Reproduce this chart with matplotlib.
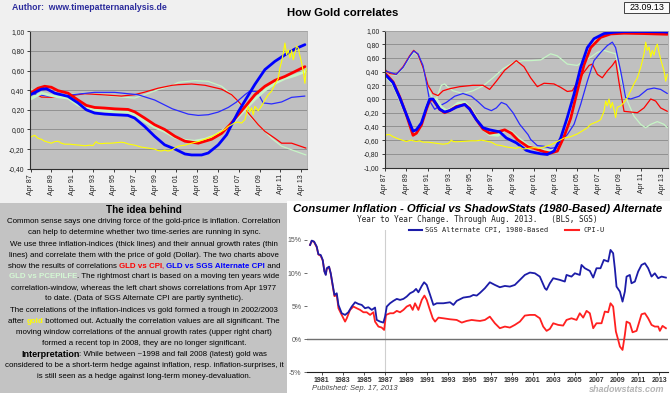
import matplotlib
matplotlib.use('Agg')
import matplotlib.pyplot as plt
from matplotlib.lines import Line2D
from matplotlib.patches import Rectangle

# ---------------- data ----------------
# tick labels of the two correlation charts (Apr of odd years)
corr_tick_years = [1987.25, 1989.25, 1991.25, 1993.25, 1995.25, 1997.25, 1999.25,
                   2001.25, 2003.25, 2005.25, 2007.25, 2009.25, 2011.25, 2013.25]
corr_tick_labels = ['Apr 87', 'Apr 89', 'Apr 91', 'Apr 93', 'Apr 95', 'Apr 97', 'Apr 99',
                    'Apr 01', 'Apr 03', 'Apr 05', 'Apr 07', 'Apr 09', 'Apr 11', 'Apr 13']

# left chart: correlations since Apr 1977
left_sgs_x = [1987.25, 1988.29, 1988.77, 1989.57, 1990.85, 1991.81, 1992.61, 1993.41, 1994.37,
              1995.33, 1996.61, 1997.25, 1998.21, 1999.17, 2000.13, 2001.12, 2002.08, 2002.72,
              2003.68, 2004.32, 2005.28, 2006.08, 2006.56, 2007.2, 2008.0, 2008.8, 2009.76,
              2010.72, 2011.68, 2012.64, 2013.6]
left_sgs_y = [0.354, 0.41, 0.415, 0.37, 0.337, 0.27, 0.2, 0.167, 0.156, 0.15, 0.143, 0.116,
              0.03, -0.07, -0.157, -0.2, -0.25, -0.26, -0.26, -0.24, -0.157, -0.054, 0.048,
              0.18, 0.32, 0.46, 0.61, 0.694, 0.76, 0.82, 0.864]
left_cpi_x = [1987.25, 1987.97, 1988.61, 1989.25, 1989.89, 1990.85, 1991.81, 1992.61, 1993.41,
              1994.37, 1995.33, 1996.61, 1997.25, 1998.21, 1999.17, 2000.13, 2001.12, 2002.08,
              2003.36, 2004.64, 2005.6, 2006.4, 2007.2, 2008.0, 2008.8, 2009.76, 2010.72,
              2011.68, 2012.64, 2013.6]
left_cpi_y = [0.37, 0.42, 0.44, 0.43, 0.395, 0.37, 0.30, 0.245, 0.224, 0.218, 0.21, 0.204,
              0.18, 0.116, 0.048, 0.0, -0.07, -0.12, -0.14, -0.1, -0.04, 0.048, 0.15, 0.25,
              0.354, 0.44, 0.5, 0.54, 0.59, 0.64]
left_pce_x = [1987.25, 1988.29, 1989.57, 1990.85, 1991.81, 1992.61, 1993.41, 1995.33, 1996.61,
              1997.25, 1998.21, 1999.17, 2000.13, 2001.12, 2002.08, 2003.0, 2004.0, 2005.0,
              2005.6, 2006.4, 2007.2, 2008.0, 2008.8, 2009.76, 2010.72, 2011.68, 2012.64, 2013.6]
left_pce_y = [0.31, 0.37, 0.337, 0.32, 0.25, 0.218, 0.2, 0.18, 0.177, 0.15, 0.082, 0.024,
              -0.02, -0.08, -0.11, -0.12, -0.1, -0.06, -0.02, 0.04, 0.13, 0.22, 0.31, 0.4,
              0.47, 0.52, 0.55, 0.59]
left_sgs_g_x = [1987.25, 1987.97, 1988.93, 1990.21, 1991.81, 1993.41, 1995.33, 1996.61, 1997.57,
                1999.17, 2000.87, 2002.4, 2003.36, 2004.32, 2005.28, 2006.24, 2007.04, 2007.84,
                2008.3, 2009.0, 2009.6, 2010.4, 2011.36, 2012.32, 2013.6]
left_sgs_g_y = [0.37, 0.354, 0.34, 0.34, 0.36, 0.378, 0.378, 0.364, 0.354, 0.30, 0.21, 0.156,
                0.143, 0.15, 0.177, 0.224, 0.28, 0.354, 0.39, 0.385, 0.27, 0.26, 0.28, 0.327, 0.34]
left_cpi_g_x = [1987.25, 1988.29, 1989.57, 1990.85, 1992.45, 1994.05, 1995.97, 1997.25, 1998.21,
                1999.49, 2000.87, 2001.44, 2002.72, 2004.0, 2005.6, 2006.56, 2007.2, 2008.16,
                2009.12, 2009.76, 2010.72, 2011.36, 2012.32, 2013.7]
left_cpi_g_y = [0.39, 0.33, 0.327, 0.34, 0.364, 0.354, 0.34, 0.354, 0.38, 0.42, 0.45, 0.456,
                0.463, 0.45, 0.41, 0.354, 0.286, 0.167, 0.048, -0.02, -0.09, -0.14, -0.14, -0.19]
left_pce_g_x = [1987.25, 1987.65, 1988.29, 1989.57, 1990.85, 1992.45, 1994.05, 1995.97, 1997.25,
                1998.21, 1999.49, 2000.87, 2001.44, 2003.04, 2004.32, 2005.6, 2006.56, 2007.52,
                2008.48, 2009.44, 2010.4, 2011.36, 2012.64, 2013.7]
left_pce_g_y = [0.42, 0.37, 0.337, 0.337, 0.354, 0.37, 0.354, 0.33, 0.32, 0.354, 0.405, 0.45,
                0.48, 0.497, 0.49, 0.44, 0.354, 0.235, 0.116, 0.014, -0.09, -0.17, -0.22, -0.26]
left_gold_x = [1987.25, 1987.39, 1987.65, 1987.97, 1988.29, 1988.61, 1988.93, 1989.25, 1989.57,
               1989.89, 1990.21, 1990.53, 1991.01, 1991.49, 1991.97, 1992.45, 1992.93, 1993.25,
               1993.41, 1993.57, 1993.73, 1994.05, 1994.53, 1995.01, 1995.49, 1995.97, 1996.29,
               1996.61, 1997.25, 1997.57, 1997.89, 1998.21, 1998.53, 1998.85, 1999.17, 1999.49,
               1999.81, 2000.13, 2000.45, 2000.8, 2001.44, 2002.08, 2002.72, 2003.36, 2004.0,
               2004.64, 2005.28, 2005.92, 2006.24, 2006.56, 2006.88, 2007.2, 2007.52, 2007.84,
               2008.0, 2008.16, 2008.32, 2008.48, 2008.64, 2008.8, 2009.12, 2009.44, 2009.76,
               2010.08, 2010.4, 2010.72, 2011.04, 2011.2, 2011.36, 2011.52, 2011.68, 2011.84,
               2012.0, 2012.16, 2012.32, 2012.48, 2012.64, 2012.8, 2012.96, 2013.12, 2013.28,
               2013.44, 2013.6, 2013.72]
left_gold_y = [-0.08, -0.07, -0.06, -0.09, -0.1, -0.12, -0.13, -0.14, -0.125, -0.12, -0.14,
               -0.15, -0.15, -0.156, -0.16, -0.167, -0.16, -0.165, -0.14, -0.125, -0.14, -0.145,
               -0.14, -0.14, -0.135, -0.13, -0.135, -0.148, -0.16, -0.17, -0.18, -0.185, -0.19,
               -0.195, -0.2, -0.215, -0.22, -0.21, -0.22, -0.21, -0.17, -0.16, -0.14, -0.123,
               -0.1, -0.075, -0.037, 0.0, 0.03, 0.048, 0.07, 0.075, 0.065, 0.1, 0.167, 0.235,
               0.18, 0.22, 0.15, 0.235, 0.19, 0.24, 0.3, 0.354, 0.39, 0.46, 0.52, 0.63, 0.69,
               0.78, 0.88, 0.76, 0.81, 0.73, 0.81, 0.71, 0.78, 0.85, 0.83, 0.75, 0.68, 0.59,
               0.47, 0.62]

# right chart: moving ten-year correlation window
right_sgs_x = [1987.25, 1988.0, 1988.63, 1989.25, 1989.88, 1990.19, 1990.66, 1991.13, 1991.44,
               1991.75, 1992.38, 1992.84, 1993.31, 1993.94, 1994.72, 1995.19, 1995.81, 1996.44,
               1997.06, 1998.0, 1998.63, 1999.56, 2000.5, 2000.9, 2001.84, 2002.47, 2003.09,
               2003.72, 2004.34, 2004.97, 2005.59, 2006.22, 2006.84, 2007.78, 2008.72, 2009.66,
               2011.53, 2013.41, 2013.72]
right_sgs_y = [0.36, 0.24, 0.02, -0.225, -0.47, -0.45, -0.35, -0.13, 0.0, 0.0, -0.15, -0.19,
               -0.17, -0.12, -0.08, -0.15, -0.3, -0.42, -0.45, -0.48, -0.57, -0.64, -0.75,
               -0.77, -0.80, -0.81, -0.76, -0.57, -0.27, 0.07, 0.46, 0.75, 0.88, 0.955, 0.975,
               0.985, 0.985, 0.98, 0.975]
right_cpi_x = [1987.25, 1988.0, 1988.63, 1989.25, 1989.88, 1990.19, 1990.66, 1991.13, 1991.44,
               1991.75, 1992.38, 1992.84, 1993.31, 1993.94, 1994.72, 1995.19, 1995.81, 1996.44,
               1997.06, 1997.84, 1998.47, 1999.09, 1999.72, 2000.66, 2001.22, 2002.16, 2002.78,
               2003.41, 2004.03, 2004.66, 2005.28, 2005.91, 2006.53, 2007.47, 2008.41, 2009.66,
               2011.53, 2013.72]
right_cpi_y = [0.38, 0.25, 0.03, -0.23, -0.53, -0.5, -0.38, -0.15, -0.02, -0.01, -0.15, -0.2,
               -0.17, -0.11, -0.08, -0.14, -0.3, -0.44, -0.5, -0.48, -0.45, -0.5, -0.6, -0.7,
               -0.72, -0.77, -0.79, -0.76, -0.55, -0.28, 0.12, 0.5, 0.75, 0.9, 0.95, 0.96,
               0.955, 0.945]
right_pce_x = [1987.25, 1988.0, 1988.63, 1989.25, 1989.88, 1990.19, 1990.66, 1991.13, 1991.44,
               1992.06, 1992.53, 1993.0, 1993.47, 1994.1, 1994.72, 1995.34, 1995.97, 1996.44,
               1997.06, 1997.84, 1998.47, 1999.09, 1999.72, 2000.66, 2001.22, 2002.16, 2002.78,
               2003.41, 2004.03, 2004.66, 2005.28, 2005.91, 2006.53, 2007.47, 2008.41, 2009.66,
               2011.53, 2013.72]
right_pce_y = [0.34, 0.22, 0.0, -0.24, -0.5, -0.47, -0.36, -0.12, 0.01, 0.0, -0.12, -0.17,
               -0.14, -0.06, -0.05, -0.15, -0.32, -0.44, -0.52, -0.53, -0.46, -0.48, -0.57,
               -0.68, -0.72, -0.75, -0.76, -0.73, -0.5, -0.2, 0.2, 0.55, 0.78, 0.92, 0.96, 0.97,
               0.97, 0.965]
right_sgs_g_x = [1987.25, 1987.69, 1988.31, 1988.94, 1989.56, 1989.94, 1990.34, 1990.81, 1991.13,
                 1991.44, 1991.91, 1992.38, 1993.0, 1993.78, 1994.56, 1995.34, 1995.97, 1996.59,
                 1997.22, 1997.69, 1998.16, 1998.63, 1999.25, 1999.88, 2000.66, 2000.9, 2001.53,
                 2002.16, 2002.78, 2003.25, 2003.72, 2004.34, 2004.97, 2005.59, 2006.22, 2006.84,
                 2007.47, 2008.09, 2008.56, 2008.87, 2009.34, 2009.81, 2010.28, 2011.06, 2011.84,
                 2012.47, 2013.09, 2013.72]
right_sgs_g_y = [0.41, 0.39, 0.36, 0.46, 0.62, 0.70, 0.66, 0.49, 0.24, -0.03, -0.15, -0.1, -0.05,
                 0.04, 0.08, 0.04, -0.04, -0.13, -0.17, -0.13, -0.05, -0.08, -0.2, -0.37, -0.52,
                 -0.59, -0.68, -0.69, -0.72, -0.71, -0.62, -0.52, -0.37, -0.08, 0.26, 0.56, 0.68,
                 0.78, 0.83, 0.75, 0.41, 0.02, 0.0, 0.04, 0.14, 0.16, 0.14, 0.08]
right_cpi_g_x = [1987.25, 1987.69, 1988.31, 1988.94, 1989.56, 1989.94, 1990.34, 1990.81, 1991.28,
                 1991.75, 1992.22, 1992.69, 1993.31, 1994.25, 1995.5, 1996.44, 1997.06, 1997.69,
                 1998.47, 1999.56, 2000.28, 2000.9, 2001.53, 2002.16, 2003.09, 2003.72, 2004.34,
                 2004.81, 2005.28, 2005.75, 2006.38, 2006.69, 2007.16, 2007.62, 2008.09, 2008.56,
                 2008.87, 2009.19, 2009.66, 2010.28, 2010.91, 2011.53, 2012.16, 2012.62, 2013.09,
                 2013.72]
right_cpi_g_y = [0.43, 0.37, 0.36, 0.47, 0.63, 0.71, 0.65, 0.46, 0.2, 0.08, 0.05, 0.12, 0.15,
                 0.18, 0.2, 0.2, 0.14, 0.26, 0.42, 0.56, 0.47, 0.31, 0.18, 0.23, 0.22, 0.17, 0.11,
                 0.12, 0.24, 0.36, 0.49, 0.51, 0.36, 0.31, 0.41, 0.49, 0.56, 0.24, -0.18, -0.19,
                 -0.2, -0.13, 0.0, -0.03, -0.13, -0.18]
right_pce_g_x = [1987.25, 1987.69, 1988.31, 1988.94, 1989.56, 1989.94, 1990.34, 1990.81, 1991.28,
                 1991.75, 1992.06, 1992.53, 1992.84, 1993.16, 1993.63, 1994.56, 1995.5, 1996.44,
                 1997.38, 1998.31, 1999.25, 2000.19, 2000.9, 2001.84, 2002.78, 2003.41, 2004.34,
                 2005.28, 2005.91, 2006.53, 2007.16, 2007.78, 2008.41, 2008.87, 2009.34, 2009.97,
                 2010.59, 2011.22, 2011.69, 2012.16, 2012.78, 2013.41, 2013.72]
right_pce_g_y = [0.39, 0.36, 0.35, 0.45, 0.6, 0.68, 0.64, 0.45, 0.15, 0.0, 0.0, 0.2, 0.22, 0.17,
                 0.12, 0.08, 0.12, 0.19, 0.31, 0.44, 0.53, 0.56, 0.56, 0.57, 0.66, 0.63, 0.51,
                 0.49, 0.56, 0.61, 0.68, 0.71, 0.68, 0.66, 0.31, -0.03, -0.25, -0.37, -0.42,
                 -0.37, -0.33, -0.37, -0.42]
right_gold_x = [1987.25, 1987.44, 1987.69, 1988.0, 1988.31, 1988.63, 1989.25, 1989.72, 1989.88,
                1990.19, 1990.5, 1990.81, 1991.28, 1991.75, 1992.22, 1992.69, 1993.16, 1993.31,
                1993.47, 1993.63, 1993.94, 1994.41, 1994.88, 1995.34, 1995.81, 1996.28, 1996.75,
                1997.22, 1997.69, 1998.16, 1998.63, 1999.09, 1999.56, 1999.88, 2000.19, 2000.75,
                2001.22, 2001.69, 2002.16, 2002.78, 2003.41, 2004.03, 2004.66, 2005.28, 2005.91,
                2006.22, 2006.53, 2006.84, 2007.16, 2007.47, 2007.78, 2007.94, 2008.09, 2008.25,
                2008.41, 2008.56, 2008.72, 2008.87, 2009.03, 2009.34, 2009.66, 2009.97, 2010.28,
                2010.59, 2010.91, 2011.22, 2011.38, 2011.53, 2011.69, 2011.84, 2012.0, 2012.16,
                2012.31, 2012.47, 2012.62, 2012.78, 2012.94, 2013.09, 2013.41, 2013.56, 2013.72]
right_gold_y = [-0.54, -0.52, -0.52, -0.55, -0.57, -0.59, -0.62, -0.6, -0.61, -0.62, -0.61,
                -0.63, -0.63, -0.64, -0.65, -0.66, -0.65, -0.63, -0.6, -0.62, -0.625, -0.62,
                -0.615, -0.61, -0.61, -0.6, -0.615, -0.63, -0.67, -0.68, -0.7, -0.71, -0.72,
                -0.7, -0.73, -0.72, -0.71, -0.72, -0.7, -0.67, -0.62, -0.57, -0.55, -0.51, -0.45,
                -0.42, -0.37, -0.35, -0.33, -0.3, -0.18, -0.03, -0.1, 0.0, -0.13, -0.05, -0.15,
                -0.27, -0.12, -0.1, -0.05, 0.02, 0.12, 0.22, 0.31, 0.46, 0.56, 0.66, 0.83, 0.71,
                0.76, 0.61, 0.71, 0.64, 0.75, 0.8, 0.68, 0.58, 0.41, 0.26, 0.36]

# shadowstats chart: year-to-year CPI change, percent
sgs_years = [1979.89, 1980.05, 1980.27, 1980.52, 1980.68, 1980.9, 1981.09, 1981.25, 1981.38,
             1981.47, 1981.69, 1981.85, 1982.01, 1982.2, 1982.42, 1982.58, 1982.89, 1983.21,
             1983.52, 1983.84, 1984.16, 1984.47, 1984.79, 1985.1, 1985.42, 1985.74, 1986.05,
             1986.21, 1986.53, 1986.84, 1987.0, 1987.16, 1987.47, 1987.79, 1988.11, 1988.42,
             1988.74, 1989.05, 1989.37, 1989.69, 1989.94, 1990.16, 1990.48, 1990.7, 1990.95,
             1991.27, 1991.58, 1991.9, 1992.53, 1993.16, 1993.48, 1993.79, 1994.42, 1995.06,
             1995.37, 1995.69, 1996.0, 1996.46, 1996.93, 1997.41, 1997.88, 1998.36, 1998.83,
             1999.3, 1999.78, 2000.25, 2000.73, 2001.2, 2001.67, 2002.15, 2002.31, 2002.62,
             2002.94, 2003.57, 2004.04, 2004.2, 2004.67, 2004.99, 2005.46, 2005.62, 2005.94,
             2006.41, 2006.73, 2007.04, 2007.42, 2007.74, 2008.15, 2008.37, 2008.62, 2008.78,
             2008.94, 2009.26, 2009.51, 2009.73, 2009.89, 2010.2, 2010.36, 2010.68, 2010.99,
             2011.31, 2011.63, 2011.94, 2012.26, 2012.57, 2012.89, 2013.21, 2013.62]
sgs_pct = [14.24, 14.9, 14.75, 14.0, 12.83, 12.73, 11.98, 10.22, 9.71, 10.72, 10.97, 9.96, 8.45,
           6.69, 6.94, 5.18, 3.92, 3.67, 4.07, 4.93, 5.58, 5.33, 5.18, 4.68, 4.83, 4.43, 4.78,
           2.91, 2.66, 2.51, 3.41, 4.93, 5.43, 5.79, 6.09, 5.94, 6.09, 6.44, 6.94, 7.2, 7.6,
           7.09, 8.05, 8.6, 8.2, 6.69, 5.18, 5.43, 5.43, 5.58, 5.18, 5.79, 6.29, 6.44, 6.69,
           6.59, 7.0, 7.7, 8.6, 8.2, 7.85, 8.05, 7.95, 8.2, 8.96, 9.71, 10.07, 9.96, 9.46, 7.7,
           7.45, 8.45, 9.21, 8.96, 8.71, 9.71, 9.46, 9.96, 9.71, 11.22, 10.72, 10.32, 9.31,
           10.72, 10.72, 11.98, 11.73, 13.49, 12.99, 10.72, 7.95, 7.2, 5.68, 7.2, 9.46, 9.71,
           8.45, 8.71, 10.22, 11.22, 11.48, 10.72, 9.46, 9.96, 9.21, 9.46, 9.31]
cpiu_years = [1979.89, 1980.05, 1980.27, 1980.52, 1980.68, 1980.9, 1981.09, 1981.25, 1981.38,
              1981.47, 1981.69, 1981.85, 1982.01, 1982.2, 1982.42, 1982.58, 1982.89, 1983.21,
              1983.37, 1983.68, 1984.0, 1984.31, 1984.63, 1984.95, 1985.26, 1985.58, 1985.89,
              1986.05, 1986.37, 1986.68, 1986.91, 1987.09, 1987.47, 1987.79, 1988.11, 1988.42,
              1988.74, 1989.05, 1989.37, 1989.62, 1989.84, 1990.16, 1990.48, 1990.73, 1990.95,
              1991.2, 1991.52, 1991.74, 1992.06, 1992.53, 1993.16, 1993.79, 1994.27, 1994.74,
              1995.21, 1995.69, 1996.0, 1996.46, 1996.93, 1997.41, 1997.88, 1998.36, 1998.83,
              1999.3, 1999.78, 2000.25, 2000.73, 2001.2, 2001.67, 2001.99, 2002.31, 2002.62,
              2002.94, 2003.41, 2003.88, 2004.2, 2004.67, 2005.15, 2005.46, 2005.78, 2006.1,
              2006.41, 2006.73, 2007.04, 2007.52, 2007.83, 2008.15, 2008.37, 2008.62, 2008.88,
              2009.1, 2009.26, 2009.51, 2009.73, 2009.89, 2010.2, 2010.46, 2010.84, 2011.31,
              2011.63, 2011.94, 2012.26, 2012.57, 2012.89, 2013.05, 2013.3, 2013.62]
cpiu_pct = [14.24, 14.85, 14.7, 13.9, 12.8, 12.6, 11.9, 10.3, 9.8, 10.6, 10.9, 9.9, 8.3, 6.5,
            6.69, 4.68, 3.67, 2.66, 3.16, 4.43, 4.93, 4.68, 4.43, 4.07, 4.07, 3.67, 4.07, 2.66,
            1.91, 1.76, 1.4, 3.67, 3.92, 3.92, 4.28, 4.07, 4.43, 4.93, 5.18, 4.43, 5.43, 4.43,
            5.94, 6.59, 5.94, 4.68, 3.16, 2.66, 3.26, 3.16, 3.01, 2.91, 2.51, 2.76, 2.91, 2.81,
            2.76, 2.91, 3.41, 2.41, 1.66, 1.91, 1.76, 2.16, 2.66, 3.57, 3.67, 3.67, 3.16, 1.91,
            1.26, 1.56, 2.41, 2.16, 2.06, 2.91, 3.16, 2.91, 3.92, 3.26, 4.28, 3.92, 1.66, 2.41,
            2.41, 4.18, 4.07, 5.43, 4.93, 1.16, -0.11, -1.11, -1.62, 0.65, 2.66, 2.41, 1.05,
            1.26, 3.77, 3.92, 3.16, 2.16, 1.91, 1.91, 1.26, 2.01, 1.66]
ss_tick_years = [1981, 1983, 1985, 1987, 1989, 1991, 1993, 1995, 1997, 1999, 2001, 2003, 2005,
                 2007, 2009, 2011, 2013]
ss_pct_ticks = [-5, 0, 5, 10, 15]

# explanation text, one entry per line: (text, colour, weight)
idea_lines = [
    [('Common sense says one driving force of the gold-price is inflation. Correlation', 'k', 'normal')],
    [('can help to determine whether two time-series are running in sync.', 'k', 'normal')],
    [('We use three inflation-indices (thick lines) and their annual growth rates (thin', 'k', 'normal')],
    [('lines) and correlate them with the price of gold (Dollar). The two charts above', 'k', 'normal')],
    [('show the results of correlations ', 'k', 'normal'), ('GLD vs CPI', '#ff0000', 'bold'),
     (', ', '#d02080', 'bold'), ('GLD vs SGS Alternate CPI', '#0000ff', 'bold'), (' and', 'k', 'normal')],
    [('GLD vs PCEPILFE', '#d4f8d4', 'bold'),
     ('. The rightmost chart is based on a moving ten years wide', 'k', 'normal')],
    [('correlation-window, whereas the left chart shows correlations from Apr 1977', 'k', 'normal')],
    [('to date. (Data of SGS Alternate CPI are partly synthetic).', 'k', 'normal')],
    [('The correlations of the inflation-indices vs gold formed a trough in 2002/2003', 'k', 'normal')],
    [('after ', 'k', 'normal'), ('gold', '#ffff00', 'bold'),
     (' bottomed out. Actually the correlation values are all significant. The', 'k', 'normal')],
    [('moving window correlations of the annual growth rates (upper right chart)', 'k', 'normal')],
    [('formed a recent top in 2008, they are no longer significant.', 'k', 'normal')],
    [('Interpretation', 'k', 'bold'), (': While between ~1998 and fall 2008 (latest) gold was', 'k', 'normal')],
    [('considered to be a short-term hedge against inflation, resp. inflation-surprises, it', 'k', 'normal')],
    [('is still seen as a hedge against long-term money-devaluation.', 'k', 'normal')],
]
idea_line_y = [221.7, 232.3, 244.3, 255.3, 266, 277, 288, 299, 310.3, 321.3, 332.3, 343.3,
               354.3, 365.7, 377]

# ---------------- figure ----------------
W, H = 670, 393
plt.rcParams['font.family'] = ['Liberation Sans', 'DejaVu Sans']
MONO = 'DejaVu Sans Mono'


def fx(x):
    return x / W


def fy(y):
    return 1 - y / H


def px_box(x0, y0, x1, y1):
    return [x0 / W, 1 - y1 / H, (x1 - x0) / W, (y1 - y0) / H]


fig = plt.figure(figsize=(W / 100, H / 100), dpi=100, facecolor='#f0f0f0')
renderer = fig.canvas.get_renderer()

# panel backgrounds
fig.add_artist(Rectangle((0, 0), fx(287), fy(203), transform=fig.transFigure,
                         facecolor='#c3c3c3', edgecolor='none', zorder=-5))
fig.add_artist(Rectangle((fx(287), 0), 1 - fx(287), fy(201), transform=fig.transFigure,
                         facecolor='white', edgecolor='none', zorder=-5))

# header
fig.text(fx(12), fy(8), 'Author:  www.timepatternanalysis.de', color='#2b2b9c',
         fontweight='bold', fontsize=6.3, va='center')
fig.text(fx(343), fy(13), 'How Gold correlates', fontweight='bold', fontsize=8.2,
         ha='center', va='center')
fig.add_artist(Rectangle((fx(624), fy(13.3)), fx(45), 11.6 / H, transform=fig.transFigure,
                         facecolor='#fafafa', edgecolor='#404040', lw=0.7))
fig.text(fx(646.5), fy(7.6), '23.09.13', fontsize=6.4, ha='center', va='center')


def corr_panel(rect, series, ylo, yticks, xlim):
    ax = fig.add_axes(rect)
    ax.set_facecolor('#c0c0c0')
    for x, y, c, lw in series:
        ax.plot(x, y, color=c, lw=lw, solid_joinstyle='round', solid_capstyle='round')
    ax.set_xlim(*xlim)
    ax.set_ylim(ylo, 1.0)
    ax.set_yticks(yticks)
    ax.set_yticklabels([f'{v:.2f}'.replace('.', ',') for v in yticks], fontsize=4.9)
    ax.set_xticks(corr_tick_years)
    ax.set_xticklabels(corr_tick_labels, rotation=90, fontsize=5)
    ax.grid(axis='y', color='#8a8a8a', lw=0.6)
    ax.set_axisbelow(True)
    for side in ['top', 'right']:
        ax.spines[side].set_color('#a8a8a8')
        ax.spines[side].set_linewidth(0.6)
    for side in ['left', 'bottom']:
        ax.spines[side].set_color('#303030')
        ax.spines[side].set_linewidth(0.8)
    ax.tick_params(length=2.5, width=0.6, pad=1.5, colors='#202020')
    return ax


GREEN = '#c6f5c6'
left_series = [
    (left_pce_g_x, left_pce_g_y, GREEN, 0.9),
    (left_cpi_g_x, left_cpi_g_y, '#ff0000', 0.9),
    (left_sgs_g_x, left_sgs_g_y, '#2a2aff', 0.9),
    (left_pce_x, left_pce_y, GREEN, 2.0),
    (left_cpi_x, left_cpi_y, '#ff0000', 2.0),
    (left_sgs_x, left_sgs_y, '#0000ff', 2.0),
    (left_gold_x, left_gold_y, '#ffff00', 0.8),
]
corr_panel(px_box(30, 31.3, 307, 168.7), left_series, -0.4,
           [-0.4, -0.2, 0.0, 0.2, 0.4, 0.6, 0.8, 1.0], (1987.2, 2013.8))

right_series = [
    (right_pce_g_x, right_pce_g_y, GREEN, 0.9),
    (right_cpi_g_x, right_cpi_g_y, '#ff0000', 0.9),
    (right_sgs_g_x, right_sgs_g_y, '#2a2aff', 0.9),
    (right_pce_x, right_pce_y, GREEN, 2.0),
    (right_cpi_x, right_cpi_y, '#ff0000', 2.0),
    (right_sgs_x, right_sgs_y, '#0000ff', 2.0),
    (right_gold_x, right_gold_y, '#ffff00', 0.8),
]
corr_panel(px_box(385, 30.5, 668, 167.5), right_series, -1.0,
           [-1.0, -0.8, -0.6, -0.4, -0.2, 0.0, 0.2, 0.4, 0.6, 0.8, 1.0], (1987.25, 2013.78))

# ---------------- explanation text box ----------------
TEXT_CX = 144
BODY_SIZE = 5.65
fig.text(fx(TEXT_CX), fy(210), 'The idea behind', fontweight='bold', fontsize=7.1,
         ha='center', va='center')


def text_width(s, size, weight):
    t = fig.text(0, 0, s + '|', fontsize=size, fontweight=weight)
    bar = fig.text(0, 0, '|', fontsize=size, fontweight=weight)
    w = t.get_window_extent(renderer).width - bar.get_window_extent(renderer).width
    t.remove()
    bar.remove()
    return w


for parts, y in zip(idea_lines, idea_line_y):
    sizes = [6.5 if (txt == 'Interpretation') else BODY_SIZE for txt, _, _ in parts]
    widths = [text_width(txt, s, wt) for (txt, _, wt), s in zip(parts, sizes)]
    x = TEXT_CX - sum(widths) / 2
    for (txt, col, wt), s, w in zip(parts, sizes, widths):
        fig.text(fx(x), fy(y), txt, color=col, fontweight=wt, fontsize=s,
                 ha='left', va='center')
        x += w

# ---------------- shadowstats chart ----------------
ax3 = fig.add_axes(px_box(307, 230, 668, 372.3))
ax3.set_facecolor('white')
ax3.axvline(1987, color='#cfcfcf', lw=0.8, zorder=0)
ax3.axhline(0, color='#707070', lw=1.0, zorder=1)
ax3.plot(cpiu_years, cpiu_pct, color='#ff2020', lw=1.3, zorder=2)
ax3.plot(sgs_years, sgs_pct, color='#1c1ca8', lw=1.3, zorder=3)
ax3.set_xlim(1979.6, 2013.82)
ax3.set_ylim(-5, 16.5)
ax3.set_xticks(ss_tick_years)
ax3.set_xticklabels([str(y) for y in ss_tick_years], fontsize=5.0, fontweight='bold',
                    color='#333333')
ax3.set_yticks(ss_pct_ticks)
ax3.set_yticklabels([f'{v}%' for v in ss_pct_ticks], fontsize=5.0, color='#333333')
for side in ['top', 'right', 'left']:
    ax3.spines[side].set_visible(False)
ax3.spines['bottom'].set_color('#202020')
ax3.spines['bottom'].set_linewidth(0.8)
ax3.tick_params(axis='y', length=2.5, width=0.6, pad=1.5, colors='#555555')
ax3.tick_params(axis='x', length=2, width=0.6, pad=1.2, colors='#333333')

fig.text(fx(293), fy(209.5), 'Consumer Inflation - Official vs ShadowStats (1980-Based) Alternate',
         fontsize=8.2, fontweight='bold', style='italic', ha='left', va='center')
fig.text(fx(357), fy(219.5), 'Year to Year Change. Through Aug. 2013.   (BLS, SGS)',
         fontsize=5.6, family=MONO, ha='left', va='center', color='#222222')
fig.add_artist(Line2D([fx(409), fx(422)], [fy(230), fy(230)], color='#1c1ca8', lw=1.5))
fig.text(fx(425), fy(230), 'SGS Alternate CPI, 1980-Based', fontsize=5.0, family=MONO,
         ha='left', va='center', color='#222222')
fig.add_artist(Line2D([fx(565), fx(579)], [fy(230), fy(230)], color='#ff2020', lw=1.5))
fig.text(fx(583), fy(230), 'CPI-U', fontsize=5.0, family=MONO, ha='left', va='center',
         color='#222222')
fig.text(fx(312), fy(388.5), 'Published: Sep. 17, 2013', fontsize=5.5, style='italic',
         ha='left', va='center', color='#444444')
fig.text(fx(664), fy(389.3), 'shadowstats.com', fontsize=6.5, style='italic', fontweight='bold',
         ha='right', va='center', color='#b4b4b4')

fig.savefig('out.png', dpi=100, facecolor=fig.get_facecolor())
